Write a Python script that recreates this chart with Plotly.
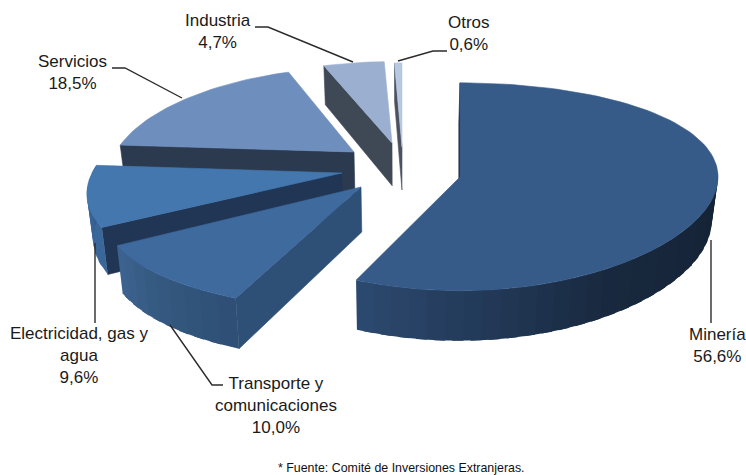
import math
import plotly.graph_objects as go

categories = ["Minería", "Transporte y<br>comunicaciones", "Electricidad, gas y<br>agua", "Servicios", "Industria", "Otros"]
shares = [56.6, 10.0, 9.6, 18.5, 4.7, 0.6]
share_labels = ["56,6%", "10,0%", "9,6%", "18,5%", "4,7%", "0,6%"]

W, H = 746, 475
P = 0.094  # vertical perspective strength
# per-slice apex, radii and horizontal perspective (pixels): styling of the exploded 3D look
GEOM = [(460, 177, 258, 103, 0.0), (361, 187, 254, 111, 0.2), (342, 173, 250, 103, 0.2),
        (354, 152, 238, 92, 0.2), (392, 143, 248, 89, 0.2), (402, 147, 240, 92, 0.2)]
TOP = ["#365b88", "#3e6a9e", "#4377ae", "#6e8fbe", "#9bafd0", "#b8c8e0"]
FACE = ["#1c2c42", "#2e4f76", "#213654", "#2c3a4f", "#3f4855", "#4a5260"]
RIM = [("#142133", "#18283e", "#2c4a70"), ("#2e4e75", "#34587f", "#3d6491"),
       ("#3a6799", "#3a6799", "#2f5785"), None, None, None]
LABEL_POS = [(717, 345), (276, 405), (79, 355), (72, 72), (218, 31), (469, 33)]
LEADERS = [[(711, 240), (711, 323)], [(170, 325), (212, 385), (223, 385)],
           [(95, 243), (95, 323)], [(112, 68), (125, 68), (182, 98)],
           [(255, 27), (268, 27), (353, 62)], [(398, 61), (433, 51), (447, 51)]]
DRAW_ORDER = [5, 4, 3, 2, 1, 0]


def top_pt(g, deg):
    cx, cy, rx, ry, px = g
    t = math.radians(deg)
    u, v = math.sin(t), math.cos(t)
    return cx + rx * u / (1 + px * v), cy - ry * v / (1 + P * v)


def low_pt(p):
    x, y = p
    return 400 + (x - 400) * 0.98, y + 45 + 0.05 * (y - 187)


def hex2rgb(h):
    return [int(h[i:i + 2], 16) for i in (1, 3, 5)]


def mix(stops, f):
    f = f * (len(stops) - 1)
    i = min(int(f), len(stops) - 2)
    a, b = hex2rgb(stops[i]), hex2rgb(stops[i + 1])
    k = f - i
    return "rgb(%d,%d,%d)" % tuple(round(a[j] + (b[j] - a[j]) * k) for j in range(3))


def poly(fig, pts, color, name=None, lw=0.6):
    fig.add_trace(go.Scatter(
        x=[p[0] for p in pts] + [pts[0][0]], y=[p[1] for p in pts] + [pts[0][1]],
        mode="lines", fill="toself", fillcolor=color,
        line=dict(color=color, width=lw), hoverinfo="skip" if name is None else "name",
        name=name or "", showlegend=False))


total = sum(shares)
edges = [0.0]
for v in shares:
    edges.append(edges[-1] + 360 * v / total)

fig = go.Figure()
for i in DRAW_ORDER:
    g = GEOM[i]
    a0, a1 = edges[i], edges[i + 1]
    apex = (g[0], g[1])
    # start cut face
    sp = top_pt(g, a0)
    poly(fig, [apex, sp, low_pt(sp), low_pt(apex)], FACE[i])
    # outer rim with shading: overlapping strips so no seams show
    if RIM[i]:
        r0, r1 = max(a0, 84), min(a1, 276)
        n = max(6, int((r1 - r0) / 4))
        for k in range(n):
            d0 = r0 + (r1 - r0) * k / n
            d1 = min(r1, r0 + (r1 - r0) * (k + 1.6) / n)
            p0, p1 = top_pt(g, d0), top_pt(g, d1)
            poly(fig, [p0, p1, low_pt(p1), low_pt(p0)], mix(RIM[i], (k + .5) / n), lw=0)
    # top face
    m = max(3, int((a1 - a0) / 2))
    arc = [top_pt(g, a0 + (a1 - a0) * k / m) for k in range(m + 1)]
    poly(fig, [apex] + arc, TOP[i], name=categories[i].replace("<br>", " ") + " " + share_labels[i])

for pts in LEADERS:
    fig.add_trace(go.Scatter(x=[p[0] for p in pts], y=[p[1] for p in pts], mode="lines",
                             line=dict(color="#2b2b2b", width=1.4), hoverinfo="skip", showlegend=False))

annotations = []
for i, c in enumerate(categories):
    annotations.append(dict(x=LABEL_POS[i][0], y=LABEL_POS[i][1], xref="x", yref="y",
                            text=c + "<br>" + share_labels[i], showarrow=False,
                            align="center", font=dict(family="Liberation Sans", size=17, color="#1a1a1a")))
annotations.append(dict(x=401, y=468, xref="x", yref="y", text="* Fuente: Comité de Inversiones Extranjeras.",
                        showarrow=False, font=dict(family="Liberation Sans", size=12.4, color="#111111")))

fig.update_layout(width=W, height=H, margin=dict(l=0, r=0, t=0, b=0), autosize=False,
                  paper_bgcolor="white", plot_bgcolor="white", showlegend=False,
                  annotations=annotations,
                  xaxis=dict(range=[0, W], visible=False, fixedrange=True),
                  yaxis=dict(range=[H, 0], visible=False, fixedrange=True))
fig.write_html("out.html", config=dict(displayModeBar=False), include_plotlyjs=True,
               post_script="document.body.style.margin='0';document.body.style.overflow='hidden';")
